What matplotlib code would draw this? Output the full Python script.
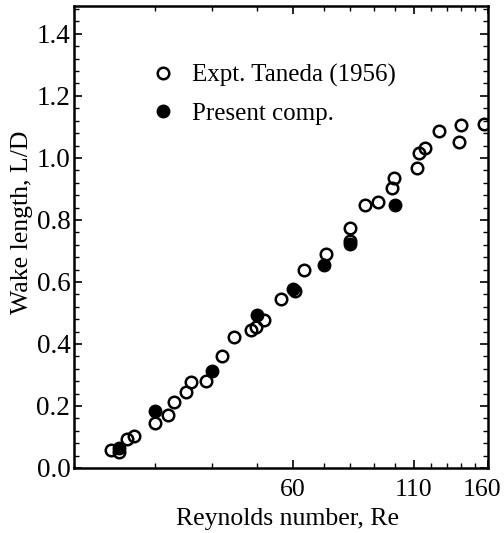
import matplotlib
matplotlib.use("Agg")
import matplotlib.pyplot as plt
import matplotlib.transforms as mtransforms
from matplotlib.ticker import FixedLocator, MultipleLocator, NullFormatter, FixedFormatter
from matplotlib.lines import Line2D

plt.rcParams['font.family'] = ['Liberation Serif', 'DejaVu Serif']

# Taneda (1956) experiment (open circles)
taneda_re = [24, 25, 26, 27, 30, 32, 33, 35, 36, 38.7, 42, 44.7, 48.6, 49.7, 51.8,
             56.6, 60.5, 63.5, 71, 80, 80, 86, 92, 98.7, 99.7, 112, 113, 116.6,
             125, 138, 139.5, 157]
taneda_ld = [0.058, 0.053, 0.094, 0.103, 0.146, 0.171, 0.214, 0.246, 0.277, 0.282,
             0.362, 0.424, 0.444, 0.454, 0.477, 0.545, 0.571, 0.640, 0.689, 0.733,
             0.773, 0.848, 0.859, 0.904, 0.935, 0.967, 1.017, 1.031, 1.087, 1.051,
             1.106, 1.109]

# Present computation (filled circles)
comp_re = [25, 30, 40, 50, 60, 70, 80, 100]
comp_ld = [0.066, 0.185, 0.313, 0.494, 0.576, 0.656, 0.722, 0.847]

x_major = [60, 110, 160]
x_major_labels = ['60', '110', '160']
x_minor = [20, 30, 40, 50, 70, 80, 90, 100, 120, 130, 140, 150]
y_ticks = [0.0, 0.2, 0.4, 0.6, 0.8, 1.0, 1.2, 1.4]

FS = 18.5

fig = plt.figure(figsize=(5.04, 5.33), dpi=100)
ax = fig.add_axes([0.1478, 0.122, 0.8205, 0.8668])

ax.plot(comp_re, comp_ld, 'o', color='black', markersize=9, markeredgewidth=1.0,
        markeredgecolor='black', label='Present comp.', zorder=3)
ax.plot(taneda_re, taneda_ld, 'o', markerfacecolor='none', markeredgecolor='black',
        markersize=8.3, markeredgewidth=1.8, label='Expt. Taneda (1956)', zorder=4)

ax.set_xscale('log')
ax.set_xlim(20, 160)
ax.set_ylim(0, 1.49)

ax.xaxis.set_major_locator(FixedLocator(x_major))
ax.xaxis.set_major_formatter(FixedFormatter(x_major_labels))
ax.xaxis.set_minor_locator(FixedLocator(x_minor))
ax.xaxis.set_minor_formatter(NullFormatter())
ax.yaxis.set_major_locator(FixedLocator(y_ticks))
ax.yaxis.set_major_formatter(FixedFormatter(['%.1f' % v for v in y_ticks]))
ax.yaxis.set_minor_locator(MultipleLocator(0.04))

ax.tick_params(which='both', direction='in', top=True, right=True, color='black')
ax.tick_params(which='major', length=6, width=1.2)
ax.tick_params(axis='x', which='major', pad=8, labelsize=FS)
ax.tick_params(axis='y', which='major', pad=3, labelsize=19.5)
ax.tick_params(which='minor', length=3.5, width=1.0)

for s in ax.spines.values():
    s.set_linewidth(1.8)

ax.set_xlabel('Reynolds number, Re', fontsize=FS)
ax.set_ylabel('Wake length, L/D', fontsize=FS)
ax.xaxis.set_label_coords(0.516, -0.110)
ax.yaxis.set_label_coords(-0.126, 0.532)
ax.xaxis.label.set_va('center')
ax.yaxis.label.set_va('center')

handles = [Line2D([], [], linestyle='none', marker='o', markerfacecolor='none',
                  markeredgecolor='black', markersize=8.3, markeredgewidth=1.8),
           Line2D([], [], linestyle='none', marker='o', color='black', markersize=9)]
ax.legend(handles, ['Expt. Taneda (1956)', 'Present comp.'], loc='upper left',
          bbox_to_anchor=(0.184, 0.874), frameon=False, fontsize=18,
          handlelength=1.0, handletextpad=0.67, labelspacing=0.6, borderpad=0,
          borderaxespad=0)

# nudge the last x tick label slightly left so it stays inside the figure
fig.canvas.draw()
last = ax.xaxis.get_major_ticks()[-1]
last.label1.set_transform(last.label1.get_transform() +
                          mtransforms.ScaledTranslation(-4 / 72, 0, fig.dpi_scale_trans))

fig.savefig('out.png', dpi=100)
